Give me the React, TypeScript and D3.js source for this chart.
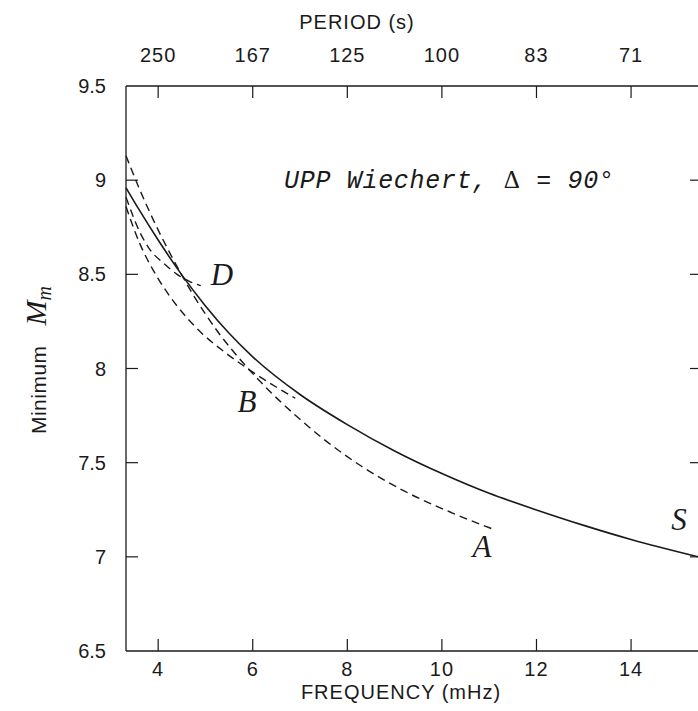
import React from "react";
import * as d3 from "d3";

// ---- data ----
const freqTicks = [4, 6, 8, 10, 12, 14];
const periodLabels = ["250", "167", "125", "100", "83", "71"];
const magTicks = [9.5, 9, 8.5, 8, 7.5, 7, 6.5];
const magTickLabels = ["9.5", "9", "8.5", "8", "7.5", "7", "6.5"];

// S: solid curve
const freqS = [3.32, 3.6, 4.0, 4.5, 5.0, 5.5, 6.0, 7.0, 8.0, 9.0, 10.0, 11.0, 12.0, 13.0, 14.0, 15.5];
const magS = [8.96, 8.842, 8.682, 8.497, 8.332, 8.187, 8.062, 7.862, 7.702, 7.562, 7.442, 7.337, 7.249, 7.167, 7.092, 6.995];

// A: dashed, longest
const freqA = [3.32, 3.6, 3.9, 4.3, 4.7, 5.25, 5.8, 6.3, 7.0, 7.5, 8.3, 9.2, 10.2, 11.08];
const magA = [9.13, 8.956, 8.788, 8.588, 8.408, 8.199, 8.029, 7.894, 7.73, 7.625, 7.481, 7.35, 7.235, 7.147];

// B: dashed
const freqB = [3.32, 3.6, 3.9, 4.2, 4.5, 4.9, 5.4, 5.9, 6.3, 6.9];
const magB = [8.86, 8.67, 8.52, 8.4, 8.301, 8.193, 8.088, 7.998, 7.932, 7.842];

// D: dashed, short
const freqD = [3.32, 3.62, 3.83, 4.11, 4.4, 4.68, 4.9];
const magD = [8.91, 8.72, 8.63, 8.56, 8.5, 8.46, 8.44];

const W = 698;
const H = 711;
const INK = "#1a1a1a";
const SANS = "'Liberation Sans', Arial, sans-serif";
const SERIF = "'Liberation Serif', 'Times New Roman', serif";
const MONO = "'Liberation Mono', 'DejaVu Sans Mono', monospace";

export default function App() {
  const x = d3.scaleLinear().domain([3.32, 15.5]).range([126, 702]);
  const y = d3.scaleLinear().domain([6.5, 9.5]).range([651, 86]);
  const line = d3
    .line<[number, number]>()
    .x((d) => x(d[0]))
    .y((d) => y(d[1]))
    .curve(d3.curveMonotoneX);
  const zip = (f: number[], m: number[]) => f.map((v, i) => [v, m[i]] as [number, number]);

  const [x0, x1] = x.range();
  const [yb, yt] = y.range();
  const tickLen = 12;

  return (
    <svg
      width={W}
      height={H}
      style={{ position: "absolute", left: 0, top: 0, background: "#fff" }}
    >
      <rect x={0} y={0} width={W} height={H} fill="#fff" />
      {/* frame */}
      <line x1={x0} x2={x1} y1={yt} y2={yt} stroke={INK} strokeWidth={1.3} />
      <line x1={x0} x2={x1} y1={yb} y2={yb} stroke={INK} strokeWidth={1.3} />
      <line x1={x0} x2={x0} y1={yt} y2={yb} stroke={INK} strokeWidth={1.3} />
      <line x1={x1} x2={x1} y1={yt} y2={yb} stroke={INK} strokeWidth={1.3} />

      {/* x ticks (bottom & top) */}
      {freqTicks.map((f, i) => (
        <g key={"xt" + f}>
          <line x1={x(f)} x2={x(f)} y1={yb} y2={yb - tickLen} stroke={INK} strokeWidth={1.2} />
          <line x1={x(f)} x2={x(f)} y1={yt} y2={yt + tickLen} stroke={INK} strokeWidth={1.2} />
          <text x={x(f)} y={676} textAnchor="middle" fontFamily={SANS} fontSize={20} fill={INK} letterSpacing={1}>
            {String(f)}
          </text>
          <text x={x(f)} y={62} textAnchor="middle" fontFamily={SANS} fontSize={20} fill={INK} letterSpacing={1}>
            {periodLabels[i]}
          </text>
        </g>
      ))}

      {/* y ticks (left & right) */}
      {magTicks.map((m, i) => (
        <g key={"yt" + m}>
          {m > 6.5 && m < 9.5 && (
            <>
              <line x1={x0} x2={x0 + tickLen} y1={y(m)} y2={y(m)} stroke={INK} strokeWidth={1.2} />
              <line x1={x1} x2={x1 - tickLen} y1={y(m)} y2={y(m)} stroke={INK} strokeWidth={1.2} />
            </>
          )}
          <text x={106} y={y(m) + 7} textAnchor="end" fontFamily={SANS} fontSize={20} fill={INK}>
            {magTickLabels[i]}
          </text>
        </g>
      ))}

      {/* axis titles */}
      <text x={357} y={29} textAnchor="middle" fontFamily={SANS} fontSize={20} fill={INK} letterSpacing={1}>
        PERIOD (s)
      </text>
      <text x={401} y={699} textAnchor="middle" fontFamily={SANS} fontSize={20} fill={INK} letterSpacing={1}>
        FREQUENCY (mHz)
      </text>
      <text transform="translate(46,360) rotate(-90)" textAnchor="middle" fill={INK}>
        <tspan fontFamily={SANS} fontSize={21} letterSpacing={0.5}>Minimum</tspan>
        <tspan dx={20} fontFamily={SERIF} fontStyle="italic" fontSize={30}>M</tspan>
        <tspan dy={5} fontFamily={SERIF} fontStyle="italic" fontSize={20}>m</tspan>
      </text>

      {/* curves */}
      <path d={line(zip(freqS, magS)) || ""} fill="none" stroke={INK} strokeWidth={1.6} />
      <path d={line(zip(freqA, magA)) || ""} fill="none" stroke={INK} strokeWidth={1.4} strokeDasharray="8,5" />
      <path d={line(zip(freqB, magB)) || ""} fill="none" stroke={INK} strokeWidth={1.4} strokeDasharray="8,5" />
      <path d={line(zip(freqD, magD)) || ""} fill="none" stroke={INK} strokeWidth={1.4} strokeDasharray="8,5" />

      {/* curve labels */}
      <text x={222} y={285} textAnchor="middle" fontFamily={SERIF} fontStyle="italic" fontSize={31} fill={INK}>D</text>
      <text x={247} y={412} textAnchor="middle" fontFamily={SERIF} fontStyle="italic" fontSize={31} fill={INK}>B</text>
      <text x={482} y={557} textAnchor="middle" fontFamily={SERIF} fontStyle="italic" fontSize={31} fill={INK}>A</text>
      <text x={679} y={530} textAnchor="middle" fontFamily={SERIF} fontStyle="italic" fontSize={31} fill={INK}>S</text>

      {/* annotation */}
      <text x={284} y={188} fontFamily={MONO} fontStyle="italic" fontSize={25} fill={INK} textLength={330} lengthAdjust="spacing">
        UPP Wiechert, <tspan fontFamily={SERIF} fontStyle="normal">Δ</tspan> = 90°
      </text>
    </svg>
  );
}
